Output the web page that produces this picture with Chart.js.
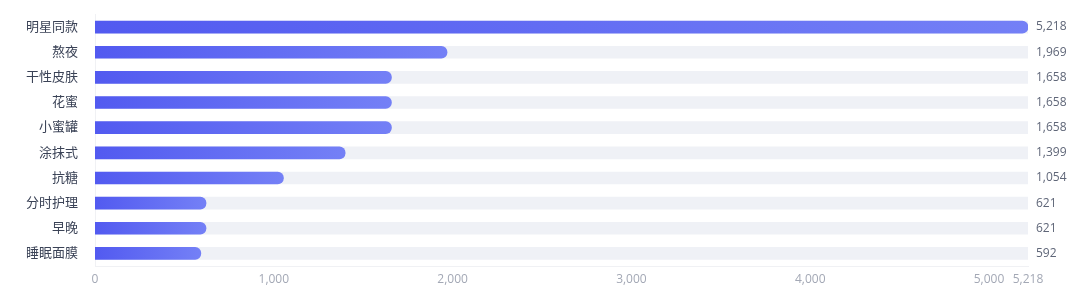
<!DOCTYPE html>
<html>
<head>
<meta charset="utf-8">
<script src="https://cdn.jsdelivr.net/npm/chart.js@4"></script>
<style>
  html, body { margin: 0; padding: 0; background: #fff; }
  #wrap { width: 1080px; height: 299px; }
</style>
</head>
<body>
<div id="wrap"><canvas id="tagChart"></canvas></div>
<script>
const categories = ['明星同款', '熬夜', '干性皮肤', '花蜜', '小蜜罐', '涂抹式', '抗糖', '分时护理', '早晚', '睡眠面膜'];
const counts = [5218, 1969, 1658, 1658, 1658, 1399, 1054, 621, 621, 592];
const axisMax = 5218;
const tickValues = [0, 1000, 2000, 3000, 4000, 5000, 5218];
const track = categories.map(() => axisMax);

const fontFamily = "'Open Sans', 'Noto Sans CJK SC', sans-serif";

// gradient per bar, from axis start to the bar's end
function barGradient(context) {
    const chart = context.chart;
    const area = chart.chartArea;
    if (!area || context.raw == null) return '#5b63f0';
    const x0 = chart.scales.x.getPixelForValue(0);
    const x1 = chart.scales.x.getPixelForValue(context.raw);
    const g = chart.ctx.createLinearGradient(x0, 0, Math.max(x1, x0 + 1), 0);
    g.addColorStop(0, '#525af0');
    g.addColorStop(1, '#7480f6');
    return g;
}

const valueLabels = {
    id: 'valueLabels',
    afterDatasetsDraw(chart) {
        const ctx = chart.ctx;
        const y = chart.scales.y;
        ctx.save();
        ctx.font = '12px ' + fontFamily;
        ctx.fillStyle = '#5f6678';
        ctx.textAlign = 'left';
        ctx.textBaseline = 'middle';
        counts.forEach((v, i) => {
            ctx.fillText(v.toLocaleString('en-US'), chart.chartArea.right + 8, y.getPixelForValue(i));
        });
        ctx.restore();
    }
};

new Chart(document.getElementById('tagChart'), {
    type: 'bar',
    data: {
        labels: categories,
        datasets: [
            {
                label: 'count',
                data: counts,
                backgroundColor: barGradient,
                borderRadius: 6,
                borderSkipped: 'start',
                barThickness: 12,
                grouped: false,
                order: 1
            },
            {
                label: 'track',
                data: track,
                backgroundColor: '#eff1f6',
                barThickness: 12,
                grouped: false,
                order: 2
            }
        ]
    },
    options: {
        indexAxis: 'y',
        responsive: true,
        maintainAspectRatio: false,
        animation: false,
        layout: { padding: { top: 14.5, right: 52, bottom: 0, left: 0 } },
        plugins: {
            legend: { display: false },
            tooltip: { enabled: false }
        },
        scales: {
            x: {
                min: 0,
                max: axisMax,
                afterBuildTicks: scale => { scale.ticks = tickValues.map(v => ({ value: v })); },
                afterFit: scale => { scale.height = 33; },
                grid: { display: false, drawTicks: false },
                border: { display: true, color: '#f0f1f4' },
                ticks: {
                    padding: 6,
                    color: '#a3a8b5',
                    font: { size: 12, family: fontFamily },
                    callback: v => v.toLocaleString('en-US')
                }
            },
            y: {
                afterFit: scale => {
                    scale.width = 95;
                    scale.paddingTop = 0;
                    scale.paddingBottom = 0;
                },
                grid: { display: false, drawTicks: false },
                border: { display: true, color: '#f0f1f4' },
                ticks: {
                    padding: 17,
                    color: '#3a4256',
                    font: { size: 13, family: fontFamily }
                }
            }
        }
    },
    plugins: [valueLabels]
});
</script>
</body>
</html>
